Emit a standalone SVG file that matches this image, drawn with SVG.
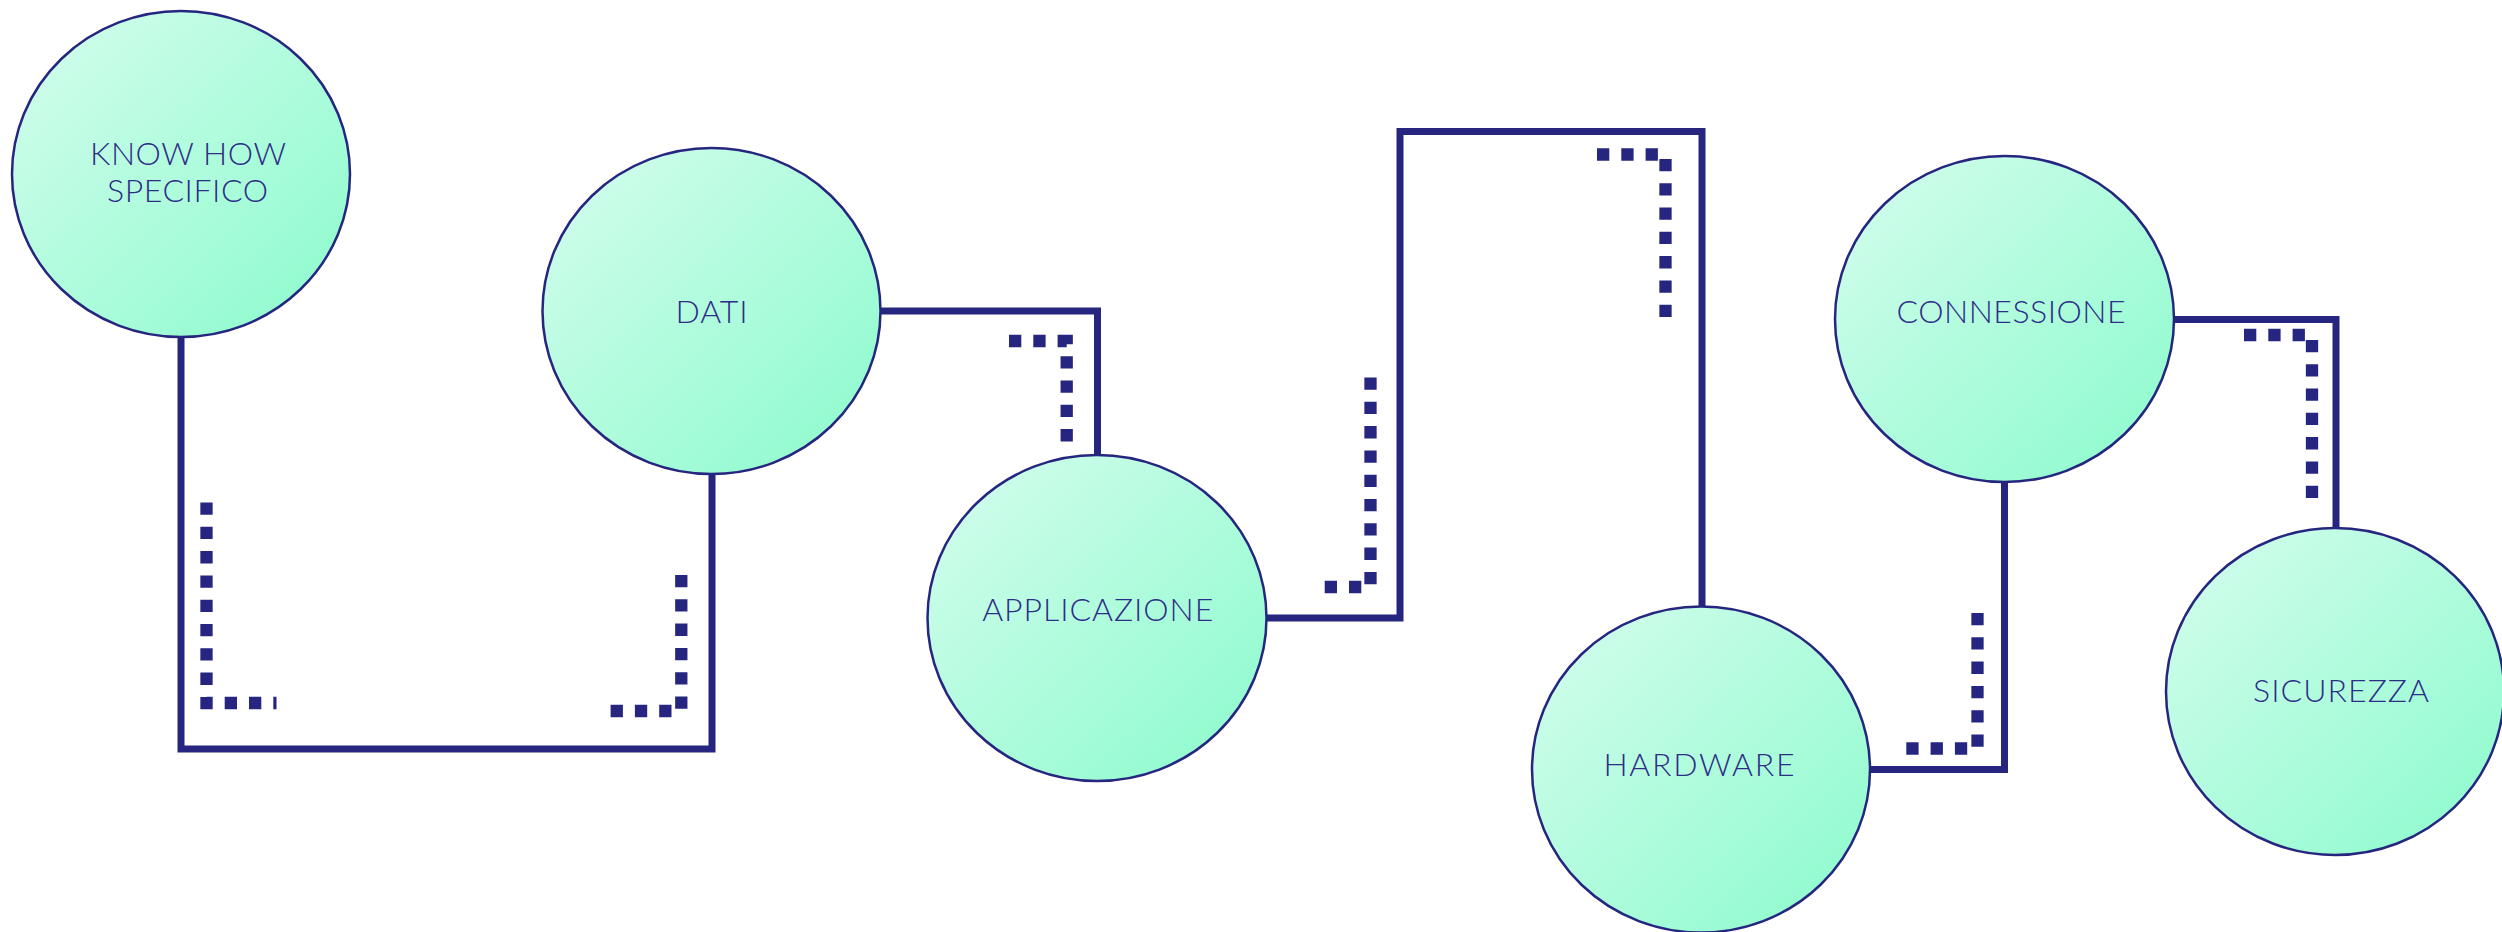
<svg xmlns="http://www.w3.org/2000/svg" width="2502" height="932" viewBox="0 0 2502 932">
  <defs>
    <linearGradient id="mint" x1="0" y1="0" x2="1" y2="1">
      <stop offset="0" stop-color="#d6fdee"/>
      <stop offset="1" stop-color="#8afbcc"/>
    </linearGradient>
    <style>
      .wire{fill:none;stroke:#262680;stroke-width:7;stroke-linejoin:miter;stroke-linecap:butt}
      .dots{fill:none;stroke:#262680;stroke-width:12.3;stroke-dasharray:12.3 12;stroke-linecap:butt;stroke-linejoin:miter}
      .node ellipse{fill:url(#mint);stroke:#262680;stroke-width:2.5}
      .node text{font-family:Lato,"Open Sans","Liberation Sans",sans-serif;font-weight:300;font-size:32px;fill:#2d2d88;text-anchor:middle}
    </style>
  </defs>
  <rect width="2502" height="932" fill="#ffffff"/>
  <g id="connectors">
    <path class="wire" d="M181,337 V749 H712 V474"/>
    <path class="wire" d="M880,311 H1097.5 V455"/>
    <path class="wire" d="M1266,618 H1400 V131.5 H1702 V606"/>
    <path class="wire" d="M1870,769.5 H2004.5 V481.5"/>
    <path class="wire" d="M2174,319.5 H2336 V528"/>
    <path class="dots" d="M206.5,502.5 V703 H276.5"/>
    <path class="dots" d="M681.3,575 V711 H606"/>
    <path class="dots" d="M1009,341 H1066.7 V441.5"/>
    <path class="dots" d="M1370.5,377.5 V587 H1322"/>
    <path class="dots" d="M1597,154.5 H1665.5 V317.5"/>
    <path class="dots" d="M1977.5,613 V748.5 H1902"/>
    <path class="dots" d="M2244,335 H2312 V498"/>
  </g>
  <g id="node-knowhow" class="node">
    <ellipse cx="181" cy="174" rx="169" ry="163"/>
    <text x="188" y="164.5" textLength="196" lengthAdjust="spacing">KNOW HOW</text>
    <text x="187.6" y="202.3" textLength="161" lengthAdjust="spacing">SPECIFICO</text>
  </g>
  <g id="node-dati" class="node">
    <ellipse cx="711.5" cy="311" rx="169" ry="163"/>
    <text x="711.5" y="323" textLength="72" lengthAdjust="spacing">DATI</text>
  </g>
  <g id="node-applicazione" class="node">
    <ellipse cx="1097" cy="618" rx="169.5" ry="163"/>
    <text x="1097.7" y="621" textLength="231" lengthAdjust="spacing">APPLICAZIONE</text>
  </g>
  <g id="node-hardware" class="node">
    <ellipse cx="1701" cy="769.5" rx="169" ry="163"/>
    <text x="1699" y="776.4" textLength="191" lengthAdjust="spacing">HARDWARE</text>
  </g>
  <g id="node-connessione" class="node">
    <ellipse cx="2004.5" cy="319" rx="169.5" ry="163"/>
    <text x="2011" y="322.8" textLength="229" lengthAdjust="spacing">CONNESSIONE</text>
  </g>
  <g id="node-sicurezza" class="node">
    <ellipse cx="2335" cy="691.5" rx="169" ry="163.5"/>
    <text x="2341" y="701.5" textLength="176" lengthAdjust="spacing">SICUREZZA</text>
  </g>
</svg>
